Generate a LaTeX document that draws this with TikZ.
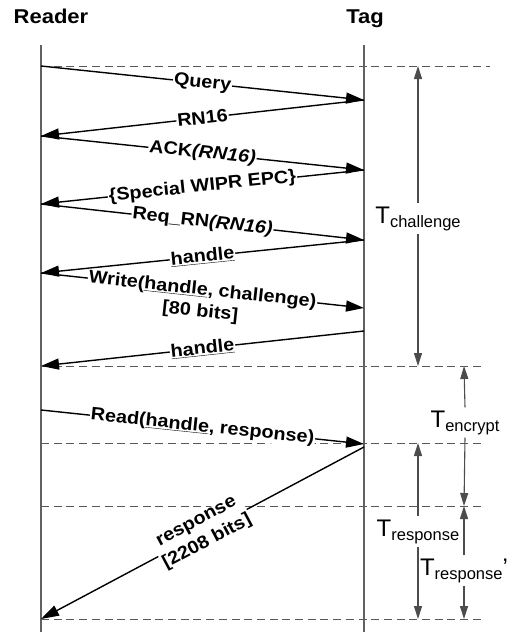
\documentclass[tikz,border=0pt]{standalone}
\usepackage{fontspec}
\setmainfont{Liberation Sans}
\newfontfamily\labfont[FakeStretch=1.1]{Liberation Sans}
\usetikzlibrary{arrows.meta,calc}
\newcommand{\Tlab}[1]{{\fontsize{24}{24}\selectfont T}\raisebox{-4pt}{\fontsize{16.5}{16.5}\selectfont #1}}
\begin{document}
\begin{tikzpicture}[x=1pt,y=-1pt,
  lane/.style={draw=black!62, line width=1.2pt},
  msg/.style={draw=black, line width=1.4pt, -{Triangle[length=18pt,width=11pt]}},
  lab/.style={font=\labfont\bfseries\fontsize{18}{22}\selectfont, fill=white, inner sep=1pt, sloped, midway},
  lab2/.style={font=\labfont\bfseries\fontsize{18}{22}\selectfont, inner sep=0pt},
  guide/.style={draw=black!65, line width=1pt, dash pattern=on 8pt off 4.7pt},
  tarr/.style={draw=black!70, line width=1.1pt, -{Triangle[length=13pt,width=8pt]}},
  tlab/.style={inner sep=3pt, anchor=base},
  ttl/.style={font=\labfont\bfseries\fontsize{20}{24}\selectfont, anchor=base}]
\useasboundingbox (0,0) rectangle (513,635);
% titles
\node[ttl] (reader) at (51,23) {Reader};
\node[ttl] (tag) at (365,23) {Tag};
% coordinates
\coordinate (r0) at (41,45);  \coordinate (r1) at (41,632);
\coordinate (t0) at (364,45); \coordinate (t1) at (364,632);
\coordinate (rA) at (41,66);  \coordinate (tB) at (364,100);
\coordinate (rC) at (41,136); \coordinate (tD) at (364,170);
\coordinate (rE) at (41,204); \coordinate (tF) at (364,240);
\coordinate (rG) at (41,273); \coordinate (tH) at (364,308);
\coordinate (tI) at (364,331); \coordinate (rJ) at (41,366);
\coordinate (rK) at (41,410); \coordinate (tL) at (364,444);
\coordinate (tM) at (364,447); \coordinate (rN) at (41,619);
\coordinate (rP) at (41,443); \coordinate (rQ) at (41,506);
\coordinate (gA) at (490,66);  \coordinate (gJ) at (485,366);
\coordinate (gP) at (485,443); \coordinate (gQ) at (485,506);
\coordinate (gN) at (485,619);
% dashed guides
\draw[guide] (rA) -- (gA);
\draw[guide] (rJ) -- (gJ);
\draw[guide] (rP) -- (gP);
\draw[guide] (rQ) -- (gQ);
\draw[guide] (rN) -- (gN);
% lanes
\draw[lane] (r0) -- (r1);
\draw[lane] (t0) -- (t1);
% messages
\draw[msg] (rA) -- node[lab] (m1) {Query} (tB);
\draw[msg] (tB) -- node[lab] (m2) {RN16} (rC);
\draw[msg] (rC) -- node[lab] (m3) {ACK\textit{(RN16)}} (tD);
\draw[msg] (tD) -- node[lab] (m4) {\{Special WIPR EPC\}} (rE);
\draw[msg] (rE) -- node[lab] (m5) {Req\_RN\textit{(RN16)}} (tF);
\draw[msg] (tF) -- node[lab] (m6) {\underline{handle}} (rG);
\draw[msg] (rG) -- node[lab] (m7) {Write(\underline{handle}, challenge)} (tH);
\node[lab2, rotate=-6.18, anchor=north] (m7b) at ($(m7.south)!-3pt!(m7.north)$) {[80 bits]};
\draw[msg] (tI) -- node[lab] (m8) {\underline{handle}} (rJ);
\draw[msg] (rK) -- node[lab] (m9) {Read(\underline{handle}, response)} (tL);
\draw[msg] (tM) -- node[lab, align=center, font=\labfont\bfseries\fontsize{18}{23}\selectfont] (m10) {response\\{[2208 bits]}} (rN);
% timing labels
\node[tlab] (tch) at (418,223) {\Tlab{challenge}};
\node[tlab] (tenc) at (465,427) {\Tlab{encrypt}};
\node[tlab] (tres) at (418,536) {\Tlab{response}};
\node[tlab] (tres2) at (464,575) {\Tlab{response}{\fontsize{24}{24}\selectfont ’}};
\coordinate (cA) at (418,66);  \coordinate (cJ) at (418,366);
\coordinate (eJ) at (464,366); \coordinate (eQ) at (464,506);
\coordinate (sP) at (418,443); \coordinate (sN) at (418,619);
\coordinate (pQ) at (464,506); \coordinate (pN) at (464,619);
\draw[tarr] (tch.north) -- (cA);
\draw[tarr] (tch.south) -- (cJ);
\draw[tarr] (tenc.north) -- (eJ);
\draw[tarr] (tenc.south) -- (eQ);
\draw[tarr] (tres.north) -- (sP);
\draw[tarr] (tres.south) -- (sN);
\draw[tarr] (tres2.north) -- (pQ);
\draw[tarr] (tres2.south) -- (pN);
\end{tikzpicture}
\end{document}
